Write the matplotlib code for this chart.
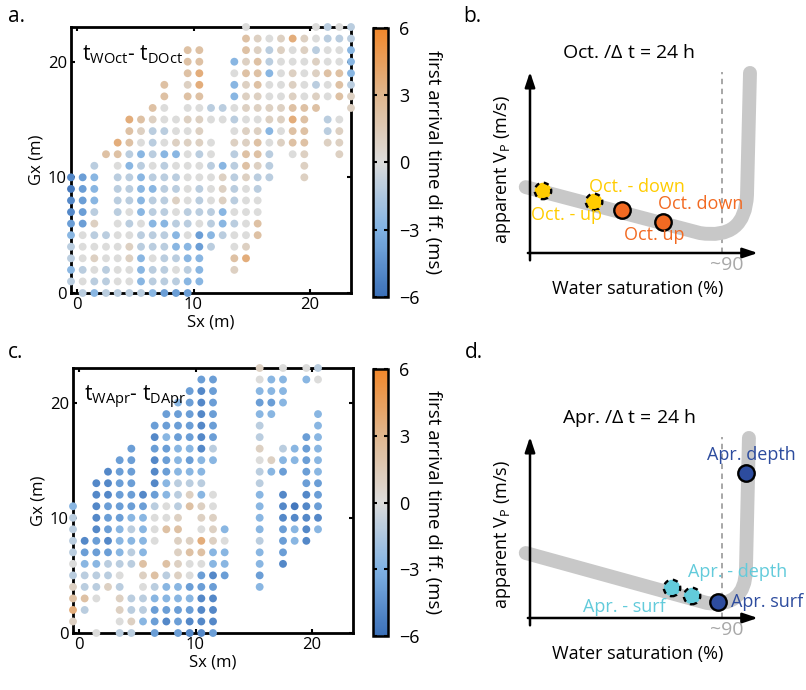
import numpy as np
import matplotlib
matplotlib.use("Agg")
import matplotlib.pyplot as plt
from matplotlib.colors import LinearSegmentedColormap, Normalize
from matplotlib.cm import ScalarMappable
from matplotlib.path import Path
from matplotlib.patches import PathPatch

plt.rcParams['font.family'] = ['Open Sans', 'DejaVu Sans']
plt.rcParams['mathtext.fontset'] = 'custom'
plt.rcParams['mathtext.rm'] = 'Open Sans'
plt.rcParams['mathtext.it'] = 'Open Sans'

# ---------------------------------------------------------------------------
# Travel-time differences on the source/receiver grid (one string per Gx row,
# top row first; one character per Sx column, '.' = no pick)
# ---------------------------------------------------------------------------
LEVELS = {'5': -5.6, '4': -4.9, '3': -3.9, '2': -2.7, '1': -1.1,
          '0': 0.0, 'a': 1.0, 'b': 2.2, 'c': 3.6}

oct_rows = [
    "...............0.....0101",
    "...............ba0aca0111",
    "..........bb...ba1a0a1002",
    "..........bb..2ab1000a002",
    "..........bc..0bb20a0abb2",
    "........b.ac..2ab00a010b1",
    "........b.bb..2aa00a0a0ba",
    ".......b0.00110aaaabbb..a",
    ".....cba00aa00100aacb.10.",
    ".....ba1100a..0aa20bb.1a.",
    "....cb010aaa0.aab0abb.aa.",
    "...bb12122010.1bb1.0a..a.",
    "..1.02101000121ba1..a....",
    "432.112111000a1a11..a....",
    "532.112211010a101........",
    "432.11211a010a100........",
    "431.1021101112000........",
    "33a.010221101210b........",
    "2011001112032100b........",
    "10000a1112231.0a.........",
    "10a00a201122..bc.........",
    "210100211012..a..........",
    "101100211122.............",
    ".1211112333..............",
]

apr_rows = [
    "................a.0.01",
    "...........33...022.20",
    "..........343...222...",
    ".........2343...332...",
    "........33343...22...2",
    ".......333343...1....2",
    ".......423343...1...32",
    ".....3.332241...a.1232",
    "....33.432322...0a2232",
    "...433.43222....123.32",
    "..4433.42111....1...33",
    "..44334321a20...2.4.43",
    "2.43333101ba0...2.4543",
    "1.4332200a.aa...2.4444",
    "1.432120bb.0a2..2.3242",
    "14342220.aaca0..1.324.",
    "1333212..abb22..2.3...",
    "022111b.ba0022..2.4...",
    "11110.ab1a0343..3.....",
    "a11a1.0122333...2.....",
    "bb0.a11222244.........",
    "c1..a11333344.........",
    "a...0a2343444.........",
    "..0.11.3.3443.........",
]

SX_OFFSET = -0.5          # first shot column sits half a metre left of 0
CBAR_TICKS = [-6, -3, 0, 3, 6]

# ---------------------------------------------------------------------------
# Conceptual Vp-saturation diagrams (saturation %, relative velocity)
# ---------------------------------------------------------------------------
oct_names = ["Oct. - up", "Oct. - down", "Oct. up", "Oct. down"]
oct_sat = [6.1, 30.1, 43.2, 62.5]
oct_vp = [33.9, 27.9, 23.5, 16.9]

apr_names = ["Apr. - surf", "Apr. - depth", "Apr. surf", "Apr. depth"]
apr_sat = [66.7, 76.1, 88.3, 101.4]
apr_vp = [16.4, 12.0, 8.7, 79.2]

trend_oct = [(-2.0, 36.0), (79.8, 10.9), (101.0, 7.0), (101.9, 31.7), (103.3, 98.4)]
trend_apr = [(-2.0, 35.5), (83.1, 8.2), (101.0, 5.5), (101.4, 26.2), (102.8, 98.4)]
SAT_KNEE = 90

YELLOW = "#ffcc00"
ORANGE = "#f26a22"
CYAN = "#62cbdb"
NAVY = "#2d4c9e"
GREY_TREND = "#c8c8c8"

cmap = LinearSegmentedColormap.from_list(
    "tdiff",
    [(0.0, "#3b70b8"), (0.25, "#80b2e3"), (0.5, "#dcdcdc"),
     (0.75, "#dfb78f"), (1.0, "#f2872a")])
norm = Normalize(-6, 6)

W, H = 806, 690
fig = plt.figure(figsize=(W / 100, H / 100), dpi=100)


def box(left, top, right, bottom):
    return [left / W, 1 - bottom / H, (right - left) / W, (bottom - top) / H]


def grid_points(rows):
    xs, ys, vs = [], [], []
    nrow = len(rows)
    for i, line in enumerate(rows):
        gx = nrow - 1 - i
        for j, ch in enumerate(line):
            if ch == '.':
                continue
            xs.append(j + SX_OFFSET)
            ys.append(gx)
            vs.append(LEVELS[ch])
    return np.array(xs), np.array(ys), np.array(vs)


def grid_panel(rect, rows, t_label, cbar_rect):
    ax = fig.add_axes(rect)
    x, y, v = grid_points(rows)
    ax.scatter(x, y, c=v, cmap=cmap, norm=norm, s=32, linewidths=0,
               clip_on=False, zorder=3)
    ax.set_xlim(-0.5, 23.5)
    ax.set_ylim(0, 23)
    ax.set_xticks([0, 10, 20])
    ax.set_yticks([0, 10, 20])
    ax.tick_params(direction='in', length=3, width=1.5, top=True, right=True,
                   labelsize=12, pad=3)
    for s in ax.spines.values():
        s.set_linewidth(2)
        s.set_zorder(2)
    ax.set_xlabel("Sx (m)", fontsize=12, labelpad=1)
    ax.set_ylabel("Gx (m)", fontsize=12, labelpad=2)
    ax.text(0.04, 0.94, t_label, transform=ax.transAxes, fontsize=15,
            ha='left', va='top', zorder=5)

    cax = fig.add_axes(cbar_rect)
    cb = fig.colorbar(ScalarMappable(norm=norm, cmap=cmap), cax=cax,
                      ticks=CBAR_TICKS)
    cb.outline.set_linewidth(1.8)
    cax.tick_params(direction='in', length=3, width=1.5, left=True,
                    right=True, labelsize=13, pad=8)
    cb.set_label("first arrival time di ff. (ms)", rotation=270,
                 fontsize=13.5, labelpad=16)
    return ax


grid_panel(box(71, 27, 351, 293), oct_rows,
           r"t$_{\mathrm{WOct}}$- t$_{\mathrm{DOct}}$", box(373, 28, 388, 297))
grid_panel(box(73, 368, 353, 633), apr_rows,
           r"t$_{\mathrm{WApr}}$- t$_{\mathrm{DApr}}$", box(373, 369, 388, 636))


def trend_patch(pts):
    codes = [Path.MOVETO, Path.LINETO, Path.CURVE3, Path.CURVE3, Path.LINETO]
    return PathPatch(Path(pts, codes), facecolor='none', edgecolor=GREY_TREND,
                     lw=10, capstyle='round', joinstyle='round', clip_on=False,
                     zorder=1)


def concept_panel(rect, trend, names, sat, vp, styles, labels_pos, title):
    ax = fig.add_axes(rect)
    ax.set_xlim(0, 108)
    ax.set_ylim(0, 100)
    ax.axis('off')
    ax.add_patch(trend_patch(trend))
    ax.plot([SAT_KNEE, SAT_KNEE], [0, 99], ls=(0, (3, 2.5)), color="#a0a0a0",
            lw=1.3, zorder=0.5, clip_on=False)
    arrow = dict(arrowstyle='-|>,head_length=0.9,head_width=0.3',
                 color='black', lw=1.8, shrinkA=0, shrinkB=0)
    ax.annotate("", xy=(107, 0), xytext=(-1, 0), arrowprops=arrow,
                annotation_clip=False)
    ax.annotate("", xy=(0, 99), xytext=(0, -4), arrowprops=arrow,
                annotation_clip=False)
    for n, s, v, (fc, ls), (tx, ty, tc) in zip(names, sat, vp, styles, labels_pos):
        edge_ls = (0, (2.2, 2.0)) if ls == 'dashed' else 'solid'
        ax.scatter([s], [v], s=140, c=fc, edgecolors='black', linewidths=1.7,
                   linestyles=[edge_ls], zorder=4, clip_on=False)
        ax.text(tx, ty, n, color=tc, fontsize=13, ha='left', va='center',
                zorder=6)
    ax.text(SAT_KNEE + 2.5, -6.5, "~90", color="#a8a8a8", fontsize=14,
            ha='center', va='center')
    ax.text(46.5, 109.5, title, fontsize=14, ha='center', va='center')
    ax.text(-12.7, 45.5, r"apparent V$_{\mathrm{P}}$ (m/s)", fontsize=13,
            rotation=90, ha='center', va='center')
    ax.text(50.7, -19.5, "Water saturation (%)", fontsize=13, ha='center',
            va='center')
    return ax


ax_b = concept_panel(
    box(530, 70, 760, 253), trend_oct, oct_names, oct_sat, oct_vp,
    [(YELLOW, 'dashed'), (YELLOW, 'dashed'), (ORANGE, 'solid'), (ORANGE, 'solid')],
    [(0.5, 20.8, YELLOW), (27.7, 36.1, YELLOW), (44.1, 9.8, ORANGE),
     (60.1, 26.8, ORANGE)],
    r"Oct. /$\Delta$ t = 24 h")

ax_d = concept_panel(
    box(530, 435, 760, 618), trend_apr, apr_names, apr_sat, apr_vp,
    [(CYAN, 'dashed'), (CYAN, 'dashed'), (NAVY, 'solid'), (NAVY, 'solid')],
    [(24.9, 6.0, CYAN), (74.2, 25.1, CYAN), (94.4, 8.7, NAVY),
     (83.1, 89.1, NAVY)],
    r"Apr. /$\Delta$ t = 24 h")

for lab, px, py in [("a.", 8, 16), ("b.", 463, 16), ("c.", 8, 352), ("d.", 465, 352)]:
    fig.text(px / W, 1 - py / H, lab, fontsize=15, ha='left', va='center')

fig.savefig("out.png", dpi=100)
